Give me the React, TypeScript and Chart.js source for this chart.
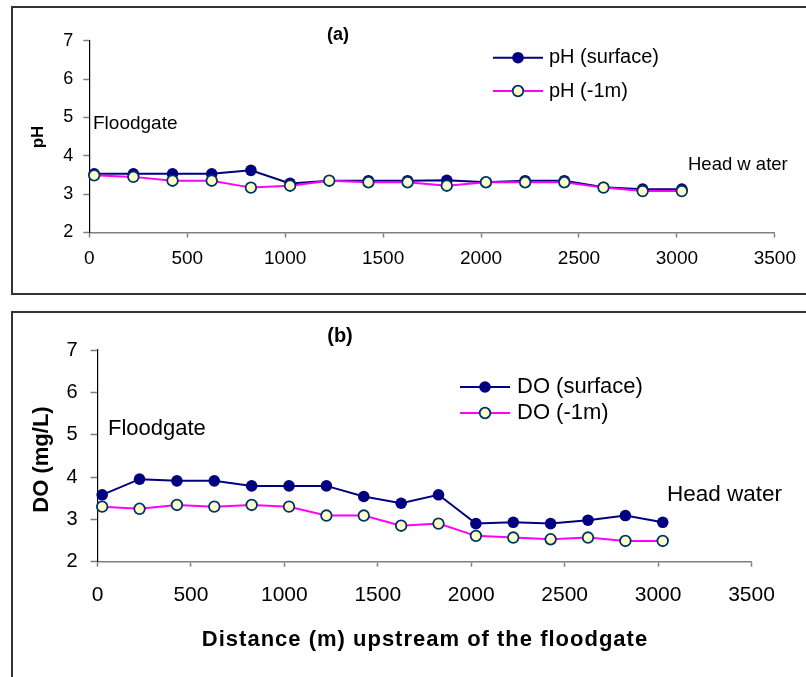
import React, { useEffect, useRef } from "react";
import { Chart, registerables } from "chart.js";

Chart.register(...registerables);

// ---------- data ----------
const distances = [25, 225, 425, 625, 825, 1025, 1225, 1425, 1625, 1825, 2025, 2225, 2425, 2625, 2825, 3025];
const phSurface = [3.53, 3.53, 3.53, 3.53, 3.62, 3.28, 3.35, 3.35, 3.35, 3.36, 3.31, 3.35, 3.35, 3.18, 3.13, 3.13];
const phMinus1m = [3.49, 3.45, 3.35, 3.35, 3.17, 3.22, 3.35, 3.31, 3.31, 3.22, 3.31, 3.31, 3.31, 3.17, 3.08, 3.08];
const doSurface = [3.58, 3.95, 3.91, 3.91, 3.79, 3.79, 3.79, 3.54, 3.38, 3.58, 2.9, 2.93, 2.9, 2.98, 3.09, 2.93];
const doMinus1m = [3.3, 3.25, 3.34, 3.3, 3.34, 3.3, 3.09, 3.09, 2.85, 2.9, 2.61, 2.57, 2.53, 2.57, 2.49, 2.49];
const xTickValues = [0, 500, 1000, 1500, 2000, 2500, 3000, 3500];
const yTickValues = [2, 3, 4, 5, 6, 7];

const phLabels = ["pH (surface)", "pH (-1m)"];
const doLabels = ["DO (surface)", "DO (-1m)"];

const FAMILY = "'Liberation Sans', Arial, sans-serif";
const NAVY = "#000080";
const MAGENTA = "#FF00FF";
const PALE = "#FFFFCC";
const RING = "#003366";

function drawMarker(ctx: CanvasRenderingContext2D, x: number, y: number, filled: boolean) {
  ctx.save();
  ctx.beginPath();
  ctx.arc(x, y, filled ? 5.8 : 5.3, 0, Math.PI * 2);
  if (filled) {
    ctx.fillStyle = NAVY;
    ctx.fill();
  } else {
    ctx.fillStyle = PALE;
    ctx.fill();
    ctx.lineWidth = 1.8;
    ctx.strokeStyle = RING;
    ctx.stroke();
  }
  ctx.restore();
}

function drawText(
  ctx: CanvasRenderingContext2D,
  s: string,
  x: number,
  y: number,
  font: string,
  align: CanvasTextAlign = "left",
  baseline: CanvasTextBaseline = "alphabetic",
  rot = 0,
  spacing = "0px"
) {
  ctx.save();
  ctx.font = font;
  ctx.fillStyle = "#000";
  ctx.textAlign = align;
  ctx.textBaseline = baseline;
  (ctx as any).letterSpacing = spacing;
  ctx.translate(x, y);
  if (rot) ctx.rotate(rot);
  ctx.fillText(s, 0, 0);
  ctx.restore();
}

function drawLegendRow(
  ctx: CanvasRenderingContext2D,
  x0: number,
  x1: number,
  y: number,
  color: string,
  filled: boolean,
  label: string,
  font: string,
  textX: number
) {
  ctx.save();
  ctx.strokeStyle = color;
  ctx.lineWidth = 2;
  ctx.beginPath();
  ctx.moveTo(x0, y);
  ctx.lineTo(x1, y);
  ctx.stroke();
  ctx.restore();
  drawMarker(ctx, (x0 + x1) / 2, y, filled);
  drawText(ctx, label, textX, y, font, "left", "middle");
}

type PanelOpts = {
  surface: number[];
  minus1m: number[];
  labels: string[];
  padding: { top: number; right: number; bottom: number; left: number };
  yWidth: number;
  xHeight: number;
  xFont: number;
  yFont: number;
  xTickLen: number;
  yTickLen: number;
  xPad: number;
  yPad: number;
  overlay: (ctx: CanvasRenderingContext2D) => void;
};

function makeConfig(o: PanelOpts): any {
  const toPts = (arr: number[]) => distances.map((d, i) => ({ x: d, y: arr[i] }));
  return {
    type: "line",
    data: {
      datasets: [
        {
          label: o.labels[0],
          data: toPts(o.surface),
          borderColor: NAVY,
          borderWidth: 2,
          backgroundColor: NAVY,
          pointBackgroundColor: NAVY,
          pointBorderColor: NAVY,
          pointBorderWidth: 0,
          pointRadius: 5.8,
          tension: 0,
          clip: false,
          order: 2,
        },
        {
          label: o.labels[1],
          data: toPts(o.minus1m),
          borderColor: MAGENTA,
          borderWidth: 2,
          backgroundColor: PALE,
          pointBackgroundColor: PALE,
          pointBorderColor: RING,
          pointBorderWidth: 1.8,
          pointRadius: 5.3,
          tension: 0,
          clip: false,
          order: 1,
        },
      ],
    },
    options: {
      responsive: false,
      animation: false,
      devicePixelRatio: 1,
      layout: { padding: o.padding, autoPadding: false },
      plugins: { legend: { display: false }, title: { display: false }, tooltip: { enabled: false } },
      scales: {
        x: {
          type: "linear",
          min: 0,
          max: 3500,
          afterBuildTicks: (s: any) => {
            s.ticks = xTickValues.map((v) => ({ value: v }));
          },
          afterFit: (s: any) => {
            s.height = o.xHeight;
          },
          ticks: {
            autoSkip: false,
            maxRotation: 0,
            color: "#000",
            padding: o.xPad,
            font: { family: FAMILY, size: o.xFont },
            callback: (v: any) => String(v),
          },
          grid: {
            drawOnChartArea: false,
            drawTicks: true,
            tickLength: o.xTickLen,
            tickColor: "#808080",
            tickWidth: 1.5,
          },
          border: { color: "#808080", width: 1.5 },
        },
        y: {
          type: "linear",
          min: 2,
          max: 7,
          afterBuildTicks: (s: any) => {
            s.ticks = yTickValues.map((v) => ({ value: v }));
          },
          afterFit: (s: any) => {
            s.width = o.yWidth;
          },
          ticks: {
            autoSkip: false,
            color: "#000",
            padding: o.yPad,
            font: { family: FAMILY, size: o.yFont },
            callback: (v: any) => String(v),
          },
          grid: {
            drawOnChartArea: false,
            drawTicks: true,
            tickLength: o.yTickLen,
            tickColor: "#808080",
            tickWidth: 1.5,
          },
          border: { color: "#000", width: 1.2 },
        },
      },
    },
    plugins: [
      {
        id: "overlay",
        afterDraw: (chart: any) => o.overlay(chart.ctx),
      },
    ],
  };
}

export default function App() {
  const refA = useRef<HTMLCanvasElement | null>(null);
  const refB = useRef<HTMLCanvasElement | null>(null);

  useEffect(() => {
    const charts: Chart[] = [];
    if (refA.current) {
      charts.push(
        new Chart(
          refA.current,
          makeConfig({
            surface: phSurface,
            minus1m: phMinus1m,
            labels: phLabels,
            padding: { top: 40.7, right: 31, bottom: 0, left: 0 },
            yWidth: 89.3,
            xHeight: 67.5,
            xFont: 19,
            yFont: 18,
            xTickLen: 5,
            yTickLen: 6,
            xPad: 10,
            yPad: 10,
            overlay: (ctx) => {
              drawText(ctx, "(a)", 338, 35, `bold 18px ${FAMILY}`, "center", "middle");
              drawText(ctx, "pH", 38.5, 137, `bold 17px ${FAMILY}`, "center", "middle", -Math.PI / 2);
              drawText(ctx, "Floodgate", 93, 129, `19px ${FAMILY}`);
              drawText(ctx, "Head w ater", 688, 170, `18.5px ${FAMILY}`);
              drawLegendRow(ctx, 493, 543, 57.7, NAVY, true, phLabels[0], `20px ${FAMILY}`, 549);
              drawLegendRow(ctx, 493, 543, 91, MAGENTA, false, phLabels[1], `20px ${FAMILY}`, 549);
            },
          })
        )
      );
    }
    if (refB.current) {
      charts.push(
        new Chart(
          refB.current,
          makeConfig({
            surface: doSurface,
            minus1m: doMinus1m,
            labels: doLabels,
            padding: { top: 50, right: 54.5, bottom: 0, left: 0 },
            yWidth: 97.5,
            xHeight: 115.3,
            xFont: 21,
            yFont: 20,
            xTickLen: 5,
            yTickLen: 7,
            xPad: 16,
            yPad: 13,
            overlay: (ctx) => {
              drawText(ctx, "(b)", 340, 36, `bold 20px ${FAMILY}`, "center", "middle");
              drawText(ctx, "DO (mg/L)", 42, 159.5, `bold 22px ${FAMILY}`, "center", "middle", -Math.PI / 2);
              drawText(ctx, "Floodgate", 108, 135, `22px ${FAMILY}`);
              drawText(ctx, "Head water", 667, 201, `22.5px ${FAMILY}`);
              drawLegendRow(ctx, 460, 510, 87, NAVY, true, doLabels[0], `22px ${FAMILY}`, 517);
              drawLegendRow(ctx, 460, 510, 113, MAGENTA, false, doLabels[1], `22px ${FAMILY}`, 517);
              drawText(
                ctx,
                "Distance (m) upstream of the floodgate",
                425,
                340,
                `bold 22px ${FAMILY}`,
                "center",
                "middle",
                0,
                "1px"
              );
            },
          })
        )
      );
    }
    return () => charts.forEach((c) => c.destroy());
  }, []);

  return (
    <div
      style={{
        position: "absolute",
        left: 0,
        top: 0,
        width: 806,
        height: 677,
        overflow: "hidden",
        background: "#fff",
      }}
    >
      <div
        style={{
          position: "absolute",
          left: 11,
          top: 6,
          width: 830,
          height: 289,
          boxSizing: "border-box",
          border: "2px solid #333",
        }}
      />
      <div
        style={{
          position: "absolute",
          left: 11,
          top: 311,
          width: 830,
          height: 400,
          boxSizing: "border-box",
          border: "2px solid #333",
        }}
      />
      <canvas
        ref={refA}
        width={806}
        height={300}
        style={{ position: "absolute", left: 0, top: 0, display: "block" }}
      />
      <canvas
        ref={refB}
        width={806}
        height={377}
        style={{ position: "absolute", left: 0, top: 300, display: "block" }}
      />
    </div>
  );
}
